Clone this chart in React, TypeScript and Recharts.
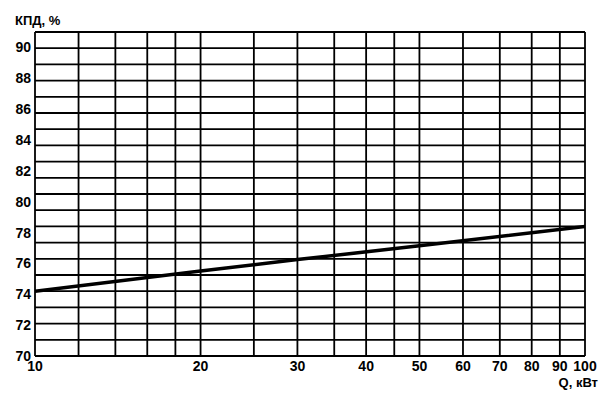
import React from 'react';
import { LineChart, Line, XAxis, YAxis, ReferenceLine } from 'recharts';

// efficiency curve
const power = [10, 20, 30, 50, 100];
const efficiency = [74, 75.25, 75.95, 76.8, 78];

const xTicks = [10, 20, 30, 40, 50, 60, 70, 80, 90, 100];
const yTicks = [70, 72, 74, 76, 78, 80, 82, 84, 86, 88, 90];
const xGrid = [10, 12, 14, 16, 18, 20, 25, 30, 35, 40, 45, 50, 60, 70, 80, 90, 100];
const yGrid = [70, 71, 72, 73, 74, 75, 76, 77, 78, 79, 80, 81, 82, 83, 84, 85, 86, 87, 88, 89, 90];

const data = power.map((q, i) => ({ q, eff: efficiency[i] }));

const font = '"Liberation Sans", Arial, sans-serif';
const tickStyle = { fontSize: 14, fill: '#000', fontFamily: font, fontWeight: 'bold' };

const App: React.FC = () => {
  return (
    <div style={{ position: 'absolute', left: 0, top: 0, width: 612, height: 406, background: '#fff' }}>
      <LineChart width={612} height={406} data={data} margin={{ top: 32, right: 27, bottom: 20, left: 0 }}>
        <XAxis
          dataKey="q"
          type="number"
          scale="log"
          domain={[10, 100]}
          ticks={xTicks}
          interval={0}
          axisLine={false}
          tickLine={false}
          tickSize={0}
          tickMargin={5}
          height={30}
          tick={tickStyle}
          allowDataOverflow
        />
        <YAxis yAxisId="grid" orientation="right" type="number" domain={[70, 90]} hide allowDataOverflow />
        {/* tick labels in the source sit on a slightly different scale than the grid */}
        <YAxis
          yAxisId="lab"
          type="number"
          domain={[70, 91]}
          ticks={yTicks}
          interval={0}
          width={35}
          axisLine={false}
          tickLine={false}
          tickSize={0}
          tickMargin={4}
          tick={tickStyle}
          allowDataOverflow
        />
        <ReferenceLine yAxisId="lab" y={91} stroke="none" ifOverflow="extendDomain" />
        {yGrid.map(v => (
          <ReferenceLine key={'h' + v} yAxisId="grid" y={v} stroke="#000" strokeWidth={1.8} />
        ))}
        {xGrid.map(v => (
          <ReferenceLine key={'v' + v} yAxisId="grid" x={v} stroke="#000" strokeWidth={1.8} />
        ))}
        <Line
          yAxisId="grid"
          type="linear"
          dataKey="eff"
          stroke="#000"
          strokeWidth={3.5}
          dot={false}
          isAnimationActive={false}
        />
      </LineChart>
      <div style={{ position: 'absolute', left: 15, top: 13, fontFamily: font, fontSize: 13, fontWeight: 'bold', color: '#000' }}>
        КПД, %
      </div>
      <div style={{ position: 'absolute', right: 14, top: 375, fontFamily: font, fontSize: 13, fontWeight: 'bold', color: '#000' }}>
        Q, кВт
      </div>
    </div>
  );
};

export default App;
